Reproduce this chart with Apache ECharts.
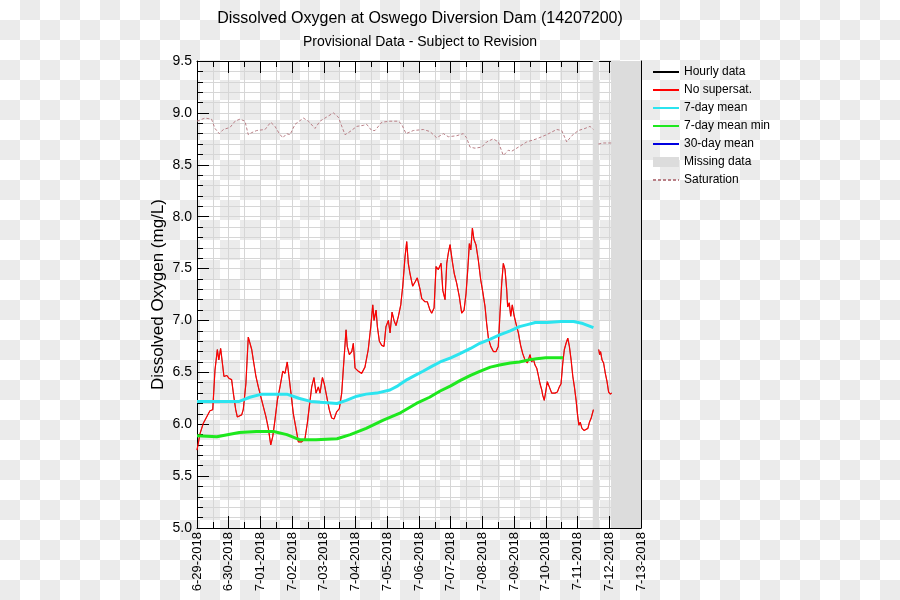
<!DOCTYPE html>
<html>
<head>
<meta charset="utf-8">
<script src="https://cdn.jsdelivr.net/npm/echarts@6/dist/echarts.min.js"></script>
<style>
html,body{margin:0;padding:0;width:900px;height:600px;overflow:hidden;}
body{background-image:repeating-conic-gradient(#ebebeb 0 25%, #ffffff 0 50%);background-size:40px 40px;background-position:0 0;}
#chart{width:900px;height:600px;}
</style>
</head>
<body>
<div id="chart"></div>
<script>
// x values are hours after 6-29-2018 00:00
const xTickLabels = ['6-29-2018','6-30-2018','7-01-2018','7-02-2018','7-03-2018','7-04-2018','7-05-2018','7-06-2018','7-07-2018','7-08-2018','7-09-2018','7-10-2018','7-11-2018','7-12-2018','7-13-2018'];

const hourlyHours = [0,2.3,4.8,7.3,9.8,11.9,13.6,15.4,16.5,17.9,19.2,20.4,22.5,24.4,26.2,27.5,29.3,30.5,32,33.8,35,37,38.8,40.1,41.4,42.6,44.6,46.4,48.2,50.2,52.2,54,55.8,57.3,59,60.8,62.8,64.9,66.6,68.3,69.6,71.1,72.9,74.9,76.7,79.2,81.7,83.5,85,86.8,88.5,90.1,91.8,93.1,94.9,96.3,98.1,100.1,101.9,103.7,105.7,107.7,109.5,111.2,112.8,113.7,115.3,117.1,118.3,119.6,122.1,124.6,127.1,129.6,131.5,133,134,135.5,136.5,138,139.8,141.5,143,144.8,146.1,147.6,149.1,150.6,152.4,154.2,155.7,157.4,158.7,159.9,161.2,163.2,165,166.7,168.8,170.1,172.5,174.3,176.3,177.6,179.4,180.9,182.6,184.7,186,187.7,189,190.2,191.5,193.2,194.7,196.5,198.5,200.3,202.1,203.6,204.9,206.1,207.2,208.4,209.6,211.1,212.9,214.7,216.2,218,219.2,220.5,222.3,224.3,226.3,228,229.3,230.6,231.8,233.1,234.4,235.1,236.3,237.4,238.6,239.9,241.4,243.2,244.9,246.5,248.2,250,252,253.3,254.5,255.8,257.1,258.3,259.6,260.9,261.6,262.8,264.1,265.1,266.6,268.4,270.9,272.7,274.2,275.5,276.8,278,279.3,280.6,281.8,283.1,284.4,285.6,286.9,287.9,289,290,291.3,293,294.5,295.8,297,298.3,300,302,304,304.7,305.4,306.5,307.7,309,310.3,311.5,312.8,313.8];
const hourlyDO = [5.75,5.91,6.01,6.07,6.13,6.14,6.52,6.72,6.62,6.73,6.59,6.46,6.47,6.44,6.43,6.30,6.14,6.07,6.06,6.09,6.14,6.39,6.84,6.83,6.72,6.62,6.46,6.36,6.27,6.17,6.07,5.96,5.80,5.88,6.04,6.23,6.36,6.51,6.49,6.60,6.46,6.30,6.10,5.96,5.83,5.83,5.86,6.01,6.17,6.36,6.45,6.30,6.36,6.30,6.45,6.39,6.27,6.14,6.06,6.05,6.12,6.15,6.30,6.62,6.91,6.75,6.67,6.70,6.78,6.54,6.51,6.49,6.55,6.72,6.94,7.15,7.00,7.10,6.94,6.80,6.76,6.75,6.94,7.00,6.88,7.08,7.00,6.95,7.04,7.15,7.33,7.61,7.76,7.55,7.45,7.33,7.37,7.41,7.30,7.21,7.18,7.18,7.10,7.07,7.12,7.52,7.49,7.55,7.29,7.20,7.55,7.65,7.73,7.57,7.45,7.36,7.23,7.07,7.10,7.26,7.49,7.74,7.68,7.89,7.78,7.73,7.58,7.39,7.28,7.13,6.97,6.83,6.75,6.70,6.70,6.75,7.07,7.36,7.55,7.49,7.29,7.13,7.17,7.04,7.15,7.05,6.97,6.88,6.76,6.68,6.62,6.59,6.67,6.60,6.63,6.57,6.54,6.47,6.39,6.33,6.28,6.23,6.33,6.41,6.36,6.30,6.30,6.31,6.36,6.39,6.59,6.72,6.78,6.83,6.75,6.62,6.46,6.36,6.23,6.10,5.99,6.02,5.96,5.94,5.93,5.96,6.02,6.06,6.14,null,6.72,6.67,6.70,6.62,6.59,6.49,6.41,6.31,6.29,6.30];

const mean7Hours = [0,20,32,40,49,58,68,77,86,96,106,113,121,128,136,146,152,159,165,171,178,184,192,199,207,214,222,229,237,244,250,256,265,275,285,292,300];
const mean7DO = [6.22,6.22,6.22,6.26,6.29,6.29,6.29,6.25,6.22,6.21,6.20,6.23,6.27,6.29,6.30,6.33,6.37,6.43,6.47,6.51,6.56,6.60,6.64,6.68,6.73,6.78,6.82,6.86,6.90,6.94,6.96,6.98,6.98,6.99,6.99,6.97,6.93];

const mean7MinHours = [0,15,32,45,58,68,78,90,106,116,128,141,154,166,176,184,192,199,207,214,222,229,237,244,251,257,264,270,277];
const mean7MinDO = [5.89,5.88,5.92,5.93,5.93,5.90,5.85,5.85,5.86,5.90,5.96,6.04,6.11,6.20,6.26,6.32,6.37,6.42,6.47,6.51,6.55,6.57,6.59,6.60,6.62,6.63,6.64,6.64,6.64];

const mean30Hours = [];
const mean30DO = [];

const satHours = [0,6,11,13.6,16.9,19.9,25,28.8,32.5,36.3,38.8,41.4,45.2,51.5,55.8,59,62.3,64.9,67.9,70.4,74.2,80.5,84.3,89.3,93.1,98.1,103.2,106.9,112,115.8,120.9,125.9,128.4,132.2,134.7,139.8,146.1,152.4,154.9,158.2,163.7,171.3,176.3,181.4,186.4,190.2,196.5,201.5,204,206.6,210.4,215.4,219.2,224.2,228,231.8,235.6,238.1,243.2,249.5,257.1,264.6,272.2,276,279.8,283.6,288.6,293.6,297.4,300,302,303.7,307.5,313.8];
const satDO = [8.92,8.95,8.94,8.85,8.80,8.84,8.86,8.92,8.94,8.92,8.79,8.81,8.83,8.84,8.91,8.87,8.80,8.76,8.80,8.79,8.89,8.95,8.92,8.85,8.92,8.96,9.00,8.96,8.79,8.82,8.87,8.88,8.89,8.83,8.83,8.91,8.92,8.92,8.89,8.80,8.83,8.84,8.82,8.76,8.80,8.77,8.78,8.80,8.76,8.67,8.66,8.67,8.72,8.75,8.72,8.59,8.64,8.63,8.67,8.72,8.75,8.79,8.84,8.83,8.72,8.78,8.83,8.85,8.87,8.84,null,8.70,8.71,8.71];

const missingStart = [299.5, 313.3];
const missingEnd = [304.3, 336];

function pairs(xs, ys){ return xs.map((x,i)=>[x, ys[i]]); }

const FONT = '"Liberation Sans", Arial, Helvetica, sans-serif';
const chart = echarts.init(document.getElementById('chart'), null, {renderer:'canvas'});

const xBase = {
  type:'value', min:0, max:336, interval:24, gridIndex:0,
  axisLine:{show:true, onZero:false, lineStyle:{color:'#000', width:1}},
  axisTick:{show:true, inside:true, length:12, lineStyle:{color:'#000', width:1}},
  minorTick:{show:true, splitNumber:2, length:6, lineStyle:{color:'#000', width:1}}
};
const yBase = {
  type:'value', min:5, max:9.5, interval:0.5, gridIndex:0,
  axisLine:{show:true, onZero:false, lineStyle:{color:'#000', width:1}},
  axisTick:{show:true, inside:true, length:12, lineStyle:{color:'#000', width:1}},
  minorTick:{show:true, splitNumber:5, length:6, lineStyle:{color:'#000', width:1}}
};

const option = {
  backgroundColor:'transparent',
  animation:false,
  textStyle:{fontFamily:FONT},
  title:[
    {text:'Dissolved Oxygen at Oswego Diversion Dam (14207200)', left:415, top:6, textAlign:'center',
     textStyle:{fontFamily:FONT, fontSize:16, fontWeight:'normal', color:'#000'}},
    {text:'Provisional Data - Subject to Revision', left:415, top:30, textAlign:'center',
     textStyle:{fontFamily:FONT, fontSize:14, fontWeight:'normal', color:'#000'}}
  ],
  legend:{
    orient:'vertical', left:652, top:66, padding:0, itemWidth:26, itemHeight:10, itemGap:6,
    textStyle:{fontFamily:FONT, fontSize:12, color:'#000'},
    itemStyle:{opacity:0},
    selectedMode:false,
    data:[
      {name:'Hourly data'},
      {name:'No supersat.'},
      {name:'7-day mean'},
      {name:'7-day mean min'},
      {name:'30-day mean'},
      {name:'Missing data', icon:'rect', itemStyle:{color:'#dcdcdc', opacity:1}},
      {name:'Saturation'}
    ]
  },
  grid:{left:197, right:259, top:61, bottom:72, containLabel:false},
  xAxis:[
    Object.assign({}, xBase, {
      position:'bottom',
      axisLabel:{show:true, rotate:90, margin:4, fontSize:13, color:'#000', fontFamily:FONT,
        showMinLabel:true, showMaxLabel:true,
        formatter:function(v){ const i = Math.round(v/24); return xTickLabels[i] || ''; }},
      splitLine:{show:true, lineStyle:{color:'#d6d6d6', width:1}},
      minorSplitLine:{show:true, lineStyle:{color:'#d6d6d6', width:1}}
    }),
    Object.assign({}, xBase, {
      position:'top', axisLabel:{show:false}, splitLine:{show:false}
    })
  ],
  yAxis:[
    Object.assign({}, yBase, {
      position:'left',
      name:'Dissolved Oxygen (mg/L)', nameLocation:'middle', nameGap:30,
      nameTextStyle:{fontFamily:FONT, fontSize:17, color:'#000'},
      axisLabel:{show:true, margin:5, fontSize:14, color:'#000', fontFamily:FONT,
        formatter:function(v){ return v.toFixed(1); }},
      splitLine:{show:true, lineStyle:{color:'#d6d6d6', width:1}},
      minorSplitLine:{show:true, lineStyle:{color:'#d6d6d6', width:1}}
    }),
    Object.assign({}, yBase, {
      position:'right', axisLabel:{show:false}, splitLine:{show:false}
    })
  ],
  series:[
    {name:'Missing data', type:'bar', xAxisIndex:0, yAxisIndex:0, data:[],
     color:'#dcdcdc', itemStyle:{color:'#dcdcdc'}, z:1,
     markArea:{silent:true, itemStyle:{color:'#dcdcdc', opacity:1},
       data: missingStart.map((s,i)=>[{xAxis:s},{xAxis:missingEnd[i]}])}},
    {name:'Hourly data', type:'line', data:pairs(hourlyHours, hourlyDO), symbol:'none', showSymbol:false,
     color:'#000', lineStyle:{color:'#000', width:0.5}, connectNulls:false, z:3},
    {name:'No supersat.', type:'line', data:pairs(hourlyHours, hourlyDO), symbol:'none', showSymbol:false,
     color:'#ff0000', lineStyle:{color:'#ff0000', width:1.2}, connectNulls:false, z:4},
    {name:'7-day mean', type:'line', data:pairs(mean7Hours, mean7DO), symbol:'none', showSymbol:false,
     color:'#2be4ef', lineStyle:{color:'#2be4ef', width:3}, z:5},
    {name:'7-day mean min', type:'line', data:pairs(mean7MinHours, mean7MinDO), symbol:'none', showSymbol:false,
     color:'#1ee81e', lineStyle:{color:'#1ee81e', width:3}, z:5},
    {name:'30-day mean', type:'line', data:pairs(mean30Hours, mean30DO), symbol:'none', showSymbol:false,
     color:'#0000e0', lineStyle:{color:'#0000e0', width:3}, z:5},
    {name:'Saturation', type:'line', data:pairs(satHours, satDO), symbol:'none', showSymbol:false,
     color:'#b97f86', lineStyle:{color:'#b97f86', width:1, type:[3,2]}, connectNulls:false, z:3}
  ]
};
chart.setOption(option);
</script>
</body>
</html>
